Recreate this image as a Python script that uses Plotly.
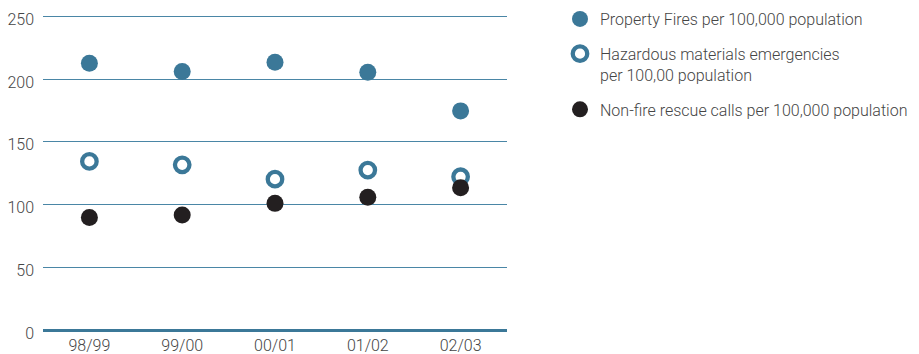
import plotly.graph_objects as go

# Fiscal years on the category axis
years = ["98/99", "99/00", "00/01", "01/02", "02/03"]

# Rates per 100,000 population
property_fires = [212.6, 206.0, 213.4, 205.4, 174.6]
hazmat_emergencies = [134.3, 131.6, 120.2, 127.4, 122.1]
nonfire_rescues = [89.7, 91.6, 100.9, 105.7, 113.3]

BLUE = "#3b7898"
DARK = "#231f20"
TEXT = "#454545"
FONT = "Roboto"
TICKFONT = dict(family=FONT, size=16, color=TEXT, weight=300)

fig = go.Figure()

fig.add_trace(go.Scatter(
    x=years, y=property_fires, mode="markers",
    name="Property Fires per 100,000 population",
    legendgroup="a",
    marker=dict(size=17, color=BLUE, line=dict(width=0)),
))
fig.add_trace(go.Scatter(
    x=years, y=hazmat_emergencies, mode="markers",
    name="Hazardous materials emergencies<br>per 100,00 population",
    legendgroup="b",
    marker=dict(size=14.5, color="white", line=dict(width=4.3, color=BLUE)),
))
fig.add_trace(go.Scatter(
    x=years, y=nonfire_rescues, mode="markers",
    name="Non-fire rescue calls per 100,000 population",
    legendgroup="c",
    marker=dict(size=17, color=DARK, line=dict(width=0)),
))

fig.update_layout(
    width=919, height=354,
    margin=dict(l=43, r=412, t=15, b=24, autoexpand=False),
    paper_bgcolor="white", plot_bgcolor="white",
    font=dict(family=FONT, size=16, color=TEXT, weight=300),
    showlegend=True,
    legend=dict(
        xref="container", yref="container",
        x=560 / 919, y=1 - 2 / 354, xanchor="left", yanchor="top",
        tracegroupgap=11, itemsizing="trace", valign="top",
        font=dict(family=FONT, size=16, color=TEXT, weight=300),
        bgcolor="rgba(0,0,0,0)",
    ),
    xaxis=dict(
        type="category", range=[-0.5, 4.5], automargin=False,
        showgrid=False, showline=False, ticks="", ticklabelstandoff=4,
        tickfont=TICKFONT, fixedrange=True,
    ),
    yaxis=dict(
        range=[0, 251], tickvals=[0, 50, 100, 150, 200, 250], automargin=False,
        showgrid=True, gridcolor="#4a86a6", gridwidth=1.4,
        zeroline=True, zerolinecolor="#3b7898", zerolinewidth=3,
        showline=False, ticks="", ticklabelstandoff=8, ticklabelshift=3,
        tickfont=TICKFONT, fixedrange=True,
    ),
)

fig.write_html("out.html")
